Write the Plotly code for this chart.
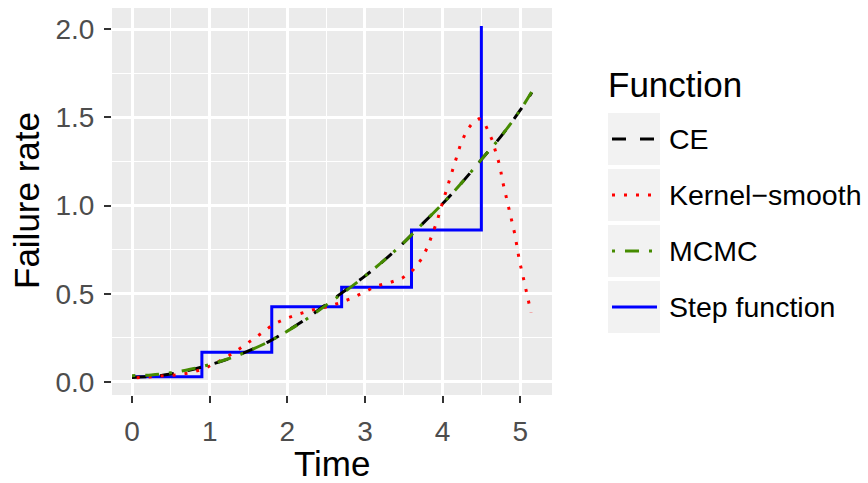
import plotly.graph_objects as go

# ---------------- data ----------------
t_grid = [0, 0.25, 0.5, 0.75, 1.0, 1.25, 1.5, 1.75, 2.0, 2.25, 2.5, 2.75, 3.0,
          3.25, 3.5, 3.75, 4.0, 4.25, 4.5, 4.75, 5.0, 5.15]
ce_vals = [0.026, 0.031, 0.045, 0.068, 0.097, 0.132, 0.176, 0.226, 0.29, 0.36,
           0.44, 0.52, 0.60, 0.69, 0.79, 0.90, 1.01, 1.13, 1.26, 1.39, 1.54, 1.64]
mcmc_vals = [0.036, 0.040, 0.052, 0.072, 0.099, 0.133, 0.176, 0.226, 0.288, 0.357,
             0.435, 0.515, 0.60, 0.69, 0.79, 0.90, 1.01, 1.13, 1.26, 1.39, 1.54, 1.645]

kern_t = [0.06, 0.23, 0.40, 0.58, 0.77, 0.94, 1.09, 1.25, 1.39, 1.54, 1.68, 1.82,
          1.98, 2.15, 2.32, 2.49, 2.66, 2.83, 2.99, 3.15, 3.32, 3.48, 3.62, 3.73,
          3.81, 3.87, 3.93, 3.98, 4.03, 4.08, 4.13, 4.18, 4.24, 4.32, 4.40, 4.47,
          4.53, 4.58, 4.64, 4.69, 4.74, 4.77, 4.81, 4.85, 4.89, 4.93, 4.96, 4.99,
          5.03, 5.07, 5.11, 5.14]
kern_vals = [0.024, 0.028, 0.034, 0.040, 0.053, 0.078, 0.11, 0.15, 0.19, 0.236,
             0.28, 0.327, 0.359, 0.385, 0.408, 0.423, 0.446, 0.474, 0.508, 0.544,
             0.563, 0.588, 0.635, 0.697, 0.767, 0.839, 0.912, 0.988, 1.06, 1.137,
             1.21, 1.286, 1.358, 1.43, 1.475, 1.492, 1.475, 1.43, 1.37, 1.296, 1.222,
             1.144, 1.069, 0.993, 0.918, 0.84, 0.765, 0.687, 0.612, 0.537, 0.459, 0.393]

step_t = [0, 0.9, 1.8, 2.7, 3.6, 4.5]
step_vals = [0.030, 0.168, 0.427, 0.537, 0.861, 2.017]

legend_labels = ["CE", "Kernel\u2212smooth", "MCMC", "Step function"]
legend_title = "Function"
x_ticks = [0, 1, 2, 3, 4, 5]
y_ticks = [0.0, 0.5, 1.0, 1.5, 2.0]
y_tick_text = ["0.0", "0.5", "1.0", "1.5", "2.0"]

# ---------------- styles ----------------
FONT = "Liberation Sans, Arial, sans-serif"
W, H = 868, 483
ML, MR, MT, MB = 112, 316, 8, 88
PW, PH = W - ML - MR, H - MT - MB

col_ce, col_k, col_m, col_s = "#000000", "#FF0000", "#458B00", "#0000FF"
dash_ce = "14px,14px"
dash_k = "3px,9px"
dash_m = "3px,10px,14px,10px"
LW = 3


def px_x(p):
    return (p - ML) / PW


def px_y(p):
    return (H - MB - p) / PH


fig = go.Figure()
fig.add_trace(go.Scatter(x=step_t, y=step_vals, mode="lines", line_shape="hv",
                         line=dict(color=col_s, width=LW), showlegend=False))
fig.add_trace(go.Scatter(x=t_grid, y=ce_vals, mode="lines", line_shape="spline",
                         line=dict(color=col_ce, width=LW, dash=dash_ce), showlegend=False))
fig.add_trace(go.Scatter(x=kern_t, y=kern_vals, mode="lines",
                         line=dict(color=col_k, width=LW, dash=dash_k), showlegend=False))
fig.add_trace(go.Scatter(x=t_grid, y=mcmc_vals, mode="lines", line_shape="spline",
                         line=dict(color=col_m, width=LW, dash=dash_m), showlegend=False))

# ---------------- manual legend ----------------
shapes = []
annotations = []
key_tops = [113, 169, 225, 281]
key_cols = [col_ce, col_k, col_m, col_s]
key_dash = [dash_ce, dash_k, dash_m, "solid"]
for top, c, d, lab in zip(key_tops, key_cols, key_dash, legend_labels):
    shapes.append(dict(type="rect", xref="paper", yref="paper", layer="below",
                       x0=px_x(608), x1=px_x(660), y0=px_y(top), y1=px_y(top + 52),
                       fillcolor="#F2F2F2", line=dict(width=0)))
    cy = top + 26
    shapes.append(dict(type="line", xref="paper", yref="paper",
                       x0=px_x(612), x1=px_x(657), y0=px_y(cy), y1=px_y(cy),
                       line=dict(color=c, width=LW, dash=d)))
    annotations.append(dict(text=lab, xref="paper", yref="paper", x=px_x(667), y=px_y(cy),
                            xanchor="left", yanchor="middle", showarrow=False,
                            font=dict(family=FONT, size=28.5, color="#000000")))
annotations.append(dict(text=legend_title, xref="paper", yref="paper", x=px_x(606), y=px_y(85),
                        xanchor="left", yanchor="middle", showarrow=False,
                        font=dict(family=FONT, size=35, color="#000000")))
# axis titles
annotations.append(dict(text="Time", xref="paper", yref="paper", x=px_x(332), y=px_y(463),
                        xanchor="center", yanchor="middle", showarrow=False,
                        font=dict(family=FONT, size=35, color="#000000")))
annotations.append(dict(text="Failure rate", xref="paper", yref="paper", x=px_x(27), y=px_y(201),
                        xanchor="center", yanchor="middle", showarrow=False, textangle=-90,
                        font=dict(family=FONT, size=35, color="#000000")))

axis_common = dict(showline=False, zeroline=False, gridcolor="#FFFFFF", gridwidth=2.6,
                   ticks="outside", ticklen=7, tickwidth=2.2, tickcolor="#333333",
                   tickfont=dict(family=FONT, size=28, color="#4D4D4D"))

fig.update_layout(
    width=W, height=H,
    margin=dict(l=ML, r=MR, t=MT, b=MB, pad=0),
    paper_bgcolor="#FFFFFF", plot_bgcolor="#EBEBEB",
    shapes=shapes, annotations=annotations,
    xaxis=dict(range=[-0.258, 5.41], tickvals=x_ticks, ticktext=[str(v) for v in x_ticks],
               minor=dict(tickvals=[0.5, 1.5, 2.5, 3.5, 4.5], gridcolor="#FFFFFF",
                          gridwidth=1.2, ticks="", showgrid=True),
               ticklabelstandoff=4, **axis_common),
    yaxis=dict(range=[-0.0737, 2.119], tickvals=y_ticks, ticktext=y_tick_text,
               minor=dict(tickvals=[0.25, 0.75, 1.25, 1.75], gridcolor="#FFFFFF",
                          gridwidth=1.2, ticks="", showgrid=True),
               ticklabelstandoff=4, **axis_common),
)

fig.write_html("out.html")
